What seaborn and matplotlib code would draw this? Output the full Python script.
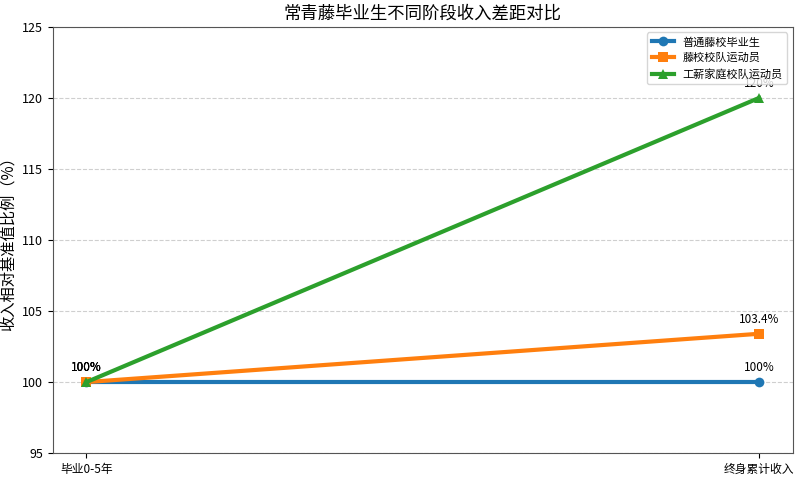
import numpy as np
import pandas as pd
import matplotlib
matplotlib.use('Agg')
import matplotlib.pyplot as plt
import seaborn as sns

stages = ['毕业0-5年', '终身累计收入']
groups = ['普通藤校毕业生', '藤校校队运动员', '工薪家庭校队运动员']
regular = [100, 100]
athlete = [100, 103.4]
low_income_athlete = [100, 120]

colors = ['#1f77b4', '#ff7f0e', '#2ca02c']
markers = ['o', 's', '^']

plt.rcParams['font.family'] = ['Noto Sans CJK SC', 'DejaVu Sans']

df = pd.DataFrame({
    'stage': stages * 3,
    'x': [0, 1] * 3,
    'value': regular + athlete + low_income_athlete,
    'group': [g for g in groups for _ in stages],
})

fig, ax = plt.subplots(figsize=(8, 4.79), dpi=100)
fig.subplots_adjust(left=0.066, right=0.991, top=0.944, bottom=0.054)

for i, g in enumerate(groups):
    sub = df[df['group'] == g]
    sns.lineplot(data=sub, x='x', y='value', ax=ax, color=colors[i], marker=markers[i],
                 markersize=7, linewidth=3, markeredgewidth=0, label=g)
    for xv, yv in zip(sub['x'], sub['value']):
        label = f'{yv:g}%'
        ax.annotate(label, (xv, yv), textcoords='offset points', xytext=(0, 8),
                    ha='center', fontsize=8.5, zorder=1)

ax.set_ylim(95, 125)
ax.set_xticks([0, 1])
ax.set_xticklabels(stages, fontsize=8.5)
ax.tick_params(axis='y', labelsize=9)
ax.set_xlabel('')
ax.set_ylabel('收入相对基准值比例（%）', fontsize=11)
ax.set_title('常青藤毕业生不同阶段收入差距对比', fontsize=12.5)
ax.grid(axis='y', linestyle='--', alpha=0.6)
for s in ax.spines.values():
    s.set_color('#555555')
leg = ax.legend(loc='upper right', fontsize=8)
leg.set_zorder(5)

fig.savefig('out.png', dpi=100)
